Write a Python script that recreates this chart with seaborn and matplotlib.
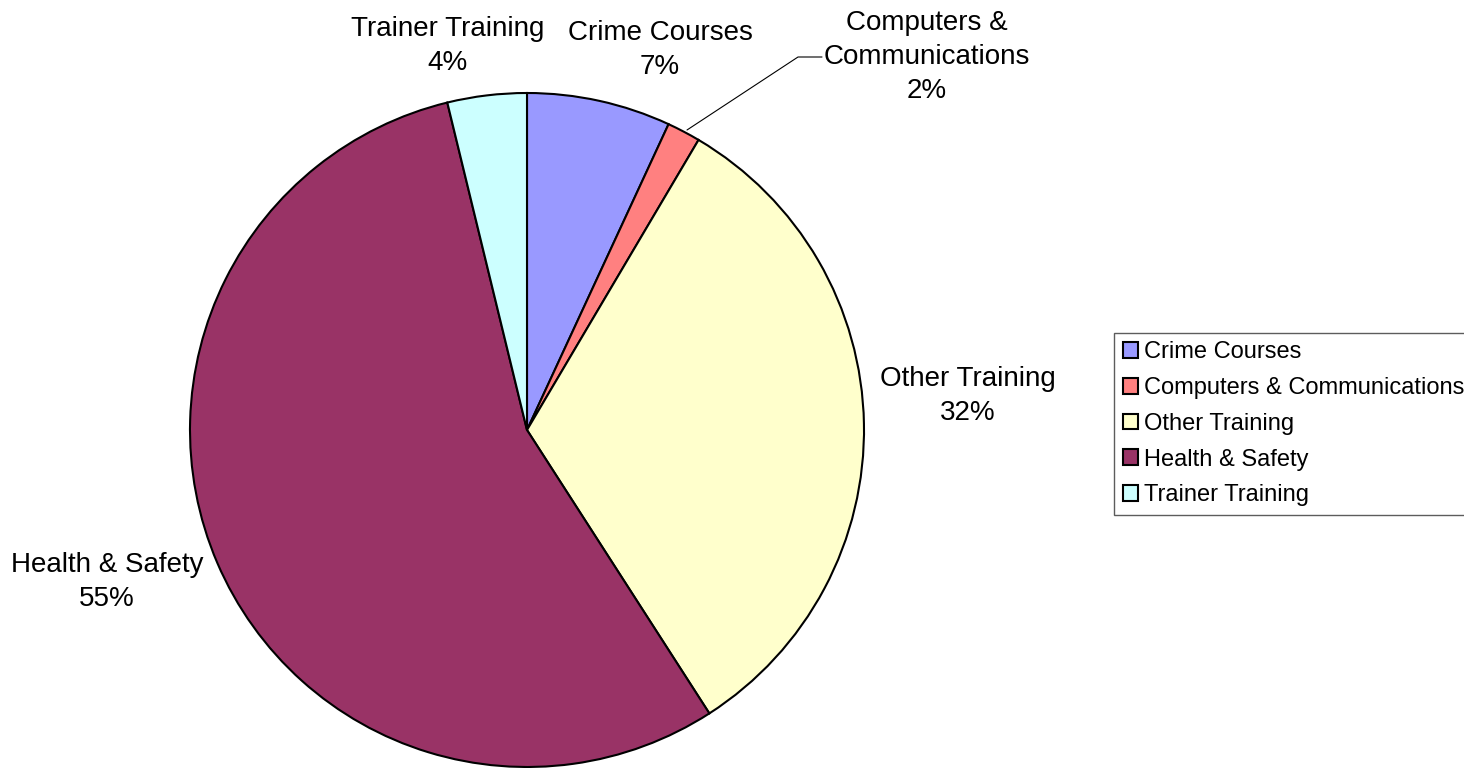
"""Training category share — pie chart with call-out labels and side legend."""
import matplotlib
matplotlib.use("Agg")
import matplotlib.pyplot as plt
import numpy as np
import seaborn as sns

categories = [
    "Crime Courses",
    "Computers & Communications",
    "Other Training",
    "Health & Safety",
    "Trainer Training",
]
label_text = [
    "Crime Courses",
    "Computers &\nCommunications",
    "Other Training",
    "Health & Safety",
    "Trainer Training",
]
shares = [6.9, 1.6, 32.4, 55.3, 3.8]
colors = ["#9999FF", "#FF8080", "#FFFFCC", "#993366", "#CCFFFF"]

# label centres in figure pixels (layout only)
label_pos = [(660, 50), (927, 57), (968, 396), (107, 582), (448, 46)]

W, H = 1464, 768

sns.set_theme(style="white")
plt.rcParams["font.family"] = ["Liberation Sans", "DejaVu Sans"]
plt.rcParams["text.color"] = "black"

fig = plt.figure(figsize=(W / 100, H / 100), dpi=100)
ax = fig.add_axes([0, 0, 1, 1])

wedges, _ = ax.pie(
    shares,
    colors=colors,
    startangle=90,
    counterclock=False,
    center=(527, H - 430),
    radius=337,
    wedgeprops={"edgecolor": "black", "linewidth": 1.5},
    frame=False,
)
ax.set_xlim(0, W)
ax.set_ylim(0, H)
ax.set_aspect("equal")
ax.axis("off")

pct = np.array(shares) / np.sum(shares) * 100
for txt, p, (px, py) in zip(label_text, pct, label_pos):
    ax.text(px, H - py, f"{txt}\n{p:.0f}%", ha="center", va="center",
            multialignment="center", fontsize=20, linespacing=1.4, color="black")

# leader line for the thin slice
ax.plot([687, 798, 822], [H - 130, H - 57, H - 57], color="black", lw=0.8)

leg = ax.legend(
    wedges, categories,
    loc="upper left",
    bbox_to_anchor=(1114 / W, 1 - 333 / H),
    bbox_transform=fig.transFigure,
    fontsize=17,
    frameon=True,
    fancybox=False,
    handlelength=0.64,
    handleheight=0.64,
    handletextpad=0.25,
    borderpad=0.36,
    borderaxespad=0,
    labelspacing=0.58,
)
leg.get_frame().set_edgecolor("#333333")
leg.get_frame().set_linewidth(1.0)
for t in leg.get_texts():
    t.set_color("black")
for h in leg.legend_handles:
    h.set_linewidth(1.5)

fig.savefig("out.png", dpi=100)
plt.close(fig)
